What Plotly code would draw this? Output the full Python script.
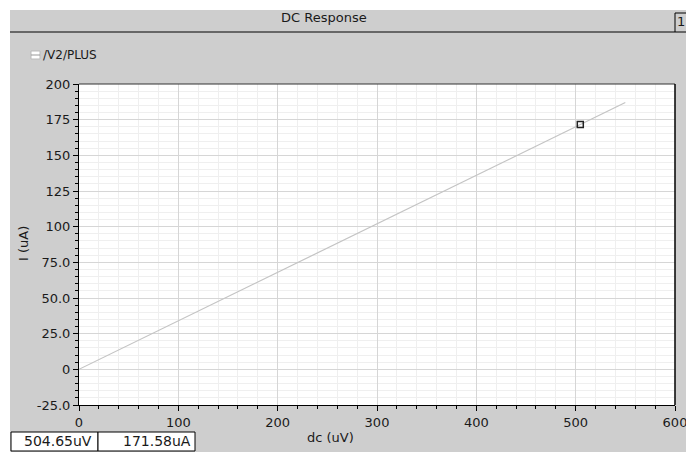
import plotly.graph_objects as go

# Data
dc_uV = [0, 550]
current_uA = [0, 187]
marker_x = [504.65]
marker_y = [171.58]
x_tickvals = [0, 100, 200, 300, 400, 500, 600]
x_ticktext = ["0", "100", "200", "300", "400", "500", "600"]
y_tickvals = [200, 175, 150, 125, 100, 75, 50, 25, 0, -25]
y_ticktext = ["200", "175", "150", "125", "100", "75.0", "50.0", "25.0", "0", "-25.0"]
series_name = "/V2/PLUS"
cursor_texts = ["504.65uV", "171.58uA"]

W, H = 686, 455
# plot area in page pixels
L, R, T, B = 79, 675, 84, 405
FONT = "DejaVu Sans"
GRAY = "#cecece"
TXT = "#1a1a1a"

def px(x):
    return (x - L) / (R - L)

def py(y):
    return (B - y) / (B - T)

fig = go.Figure()
fig.add_trace(go.Scatter(x=dc_uV, y=current_uA, mode="lines",
                         line=dict(color="#c4c4c4", width=1.2), name=series_name,
                         showlegend=False, hoverinfo="skip"))
fig.add_trace(go.Scatter(x=marker_x, y=marker_y, mode="markers",
                         marker=dict(symbol="square-open", size=6, color="#222222",
                                     line=dict(width=1.5)), showlegend=False))

shapes = []
# white outer strips (top, left, bottom)
shapes.append(dict(type="rect", xref="paper", yref="paper",
                   x0=px(-20), x1=px(720), y0=py(10), y1=py(-20),
                   fillcolor="#ffffff", line=dict(width=0)))
shapes.append(dict(type="rect", xref="paper", yref="paper",
                   x0=px(-20), x1=px(10), y0=py(480), y1=py(-20),
                   fillcolor="#ffffff", line=dict(width=0)))
shapes.append(dict(type="rect", xref="paper", yref="paper",
                   x0=px(-20), x1=px(720), y0=py(480), y1=py(452),
                   fillcolor="#ffffff", line=dict(width=0)))
# title bar underline
shapes.append(dict(type="line", xref="paper", yref="paper",
                   x0=px(10), x1=px(675), y0=py(32), y1=py(32),
                   line=dict(color="#000000", width=1)))
# "1" box
shapes.append(dict(type="rect", xref="paper", yref="paper",
                   x0=px(675), x1=px(692), y0=py(32), y1=py(13),
                   fillcolor=GRAY, line=dict(color="#000000", width=1)))
# legend swatch
shapes.append(dict(type="rect", xref="paper", yref="paper",
                   x0=px(31), x1=px(40), y0=py(59), y1=py(51),
                   fillcolor="#ffffff", line=dict(color="#bbbbbb", width=1)))
shapes.append(dict(type="line", xref="paper", yref="paper",
                   x0=px(31), x1=px(40), y0=py(55), y1=py(55),
                   line=dict(color="#999999", width=1)))
# cursor readout boxes
shapes.append(dict(type="rect", xref="paper", yref="paper",
                   x0=px(11), x1=px(98), y0=py(451), y1=py(432),
                   fillcolor="#ffffff", line=dict(color="#000000", width=1)))
shapes.append(dict(type="rect", xref="paper", yref="paper",
                   x0=px(98), x1=px(195), y0=py(451), y1=py(432),
                   fillcolor="#ffffff", line=dict(color="#000000", width=1)))
# plot border top/right
shapes.append(dict(type="line", xref="paper", yref="paper",
                   x0=0, x1=1, y0=1, y1=1, line=dict(color="#333333", width=1)))
shapes.append(dict(type="line", xref="paper", yref="paper",
                   x0=1, x1=1, y0=0, y1=1, line=dict(color="#000000", width=1.5)))

def ann(text, x, y, xanchor="center", size=13, angle=0):
    return dict(text=text, x=px(x), y=py(y), xref="paper", yref="paper",
                xanchor=xanchor, yanchor="middle", showarrow=False, textangle=angle,
                font=dict(family=FONT, size=size, color=TXT))

annotations = [
    ann("DC Response", 324, 18),
    ann("1", 681, 22),
    ann(series_name, 41, 55, xanchor="left", size=12),
    ann(cursor_texts[0], 94, 441, xanchor="right", size=14),
    ann(cursor_texts[1], 193, 441, xanchor="right", size=14),
    ann("dc (uV)", 330, 437),
    ann("I (uA)", 23, 244, angle=-90),
]

fig.update_layout(
    width=W, height=H,
    margin=dict(l=L, r=W - R, t=T, b=H - B, pad=0, autoexpand=False),
    paper_bgcolor=GRAY, plot_bgcolor="#ffffff",
    shapes=shapes, annotations=annotations,
    font=dict(family=FONT, size=13, color=TXT),
    xaxis=dict(range=[0, 600], tickvals=x_tickvals, ticktext=x_ticktext,
               automargin=False, ticklabeloverflow="allow",
               ticks="outside", ticklen=5, tickcolor="#000000",
               showline=True, linecolor="#000000", linewidth=1,
               showgrid=True, gridcolor="#d6d6d6", gridwidth=1, zeroline=False,
               minor=dict(dtick=20, ticks="outside", ticklen=3, tickcolor="#000000",
                          showgrid=True, gridcolor="#efefef"),
               tickfont=dict(size=13, color=TXT)),
    yaxis=dict(range=[-25, 200], tickvals=y_tickvals, ticktext=y_ticktext,
               automargin=False, ticklabeloverflow="allow",
               ticks="outside", ticklen=5, tickcolor="#000000",
               showline=True, linecolor="#000000", linewidth=1,
               showgrid=True, gridcolor="#d6d6d6", gridwidth=1, zeroline=False,
               minor=dict(dtick=5, ticks="outside", ticklen=3, tickcolor="#000000",
                          showgrid=True, gridcolor="#efefef"),
               tickfont=dict(size=13, color=TXT)),
)

fig.write_html("out.html", config={"displayModeBar": False},
               post_script="document.body.style.margin='0';document.body.style.overflow='hidden';")
